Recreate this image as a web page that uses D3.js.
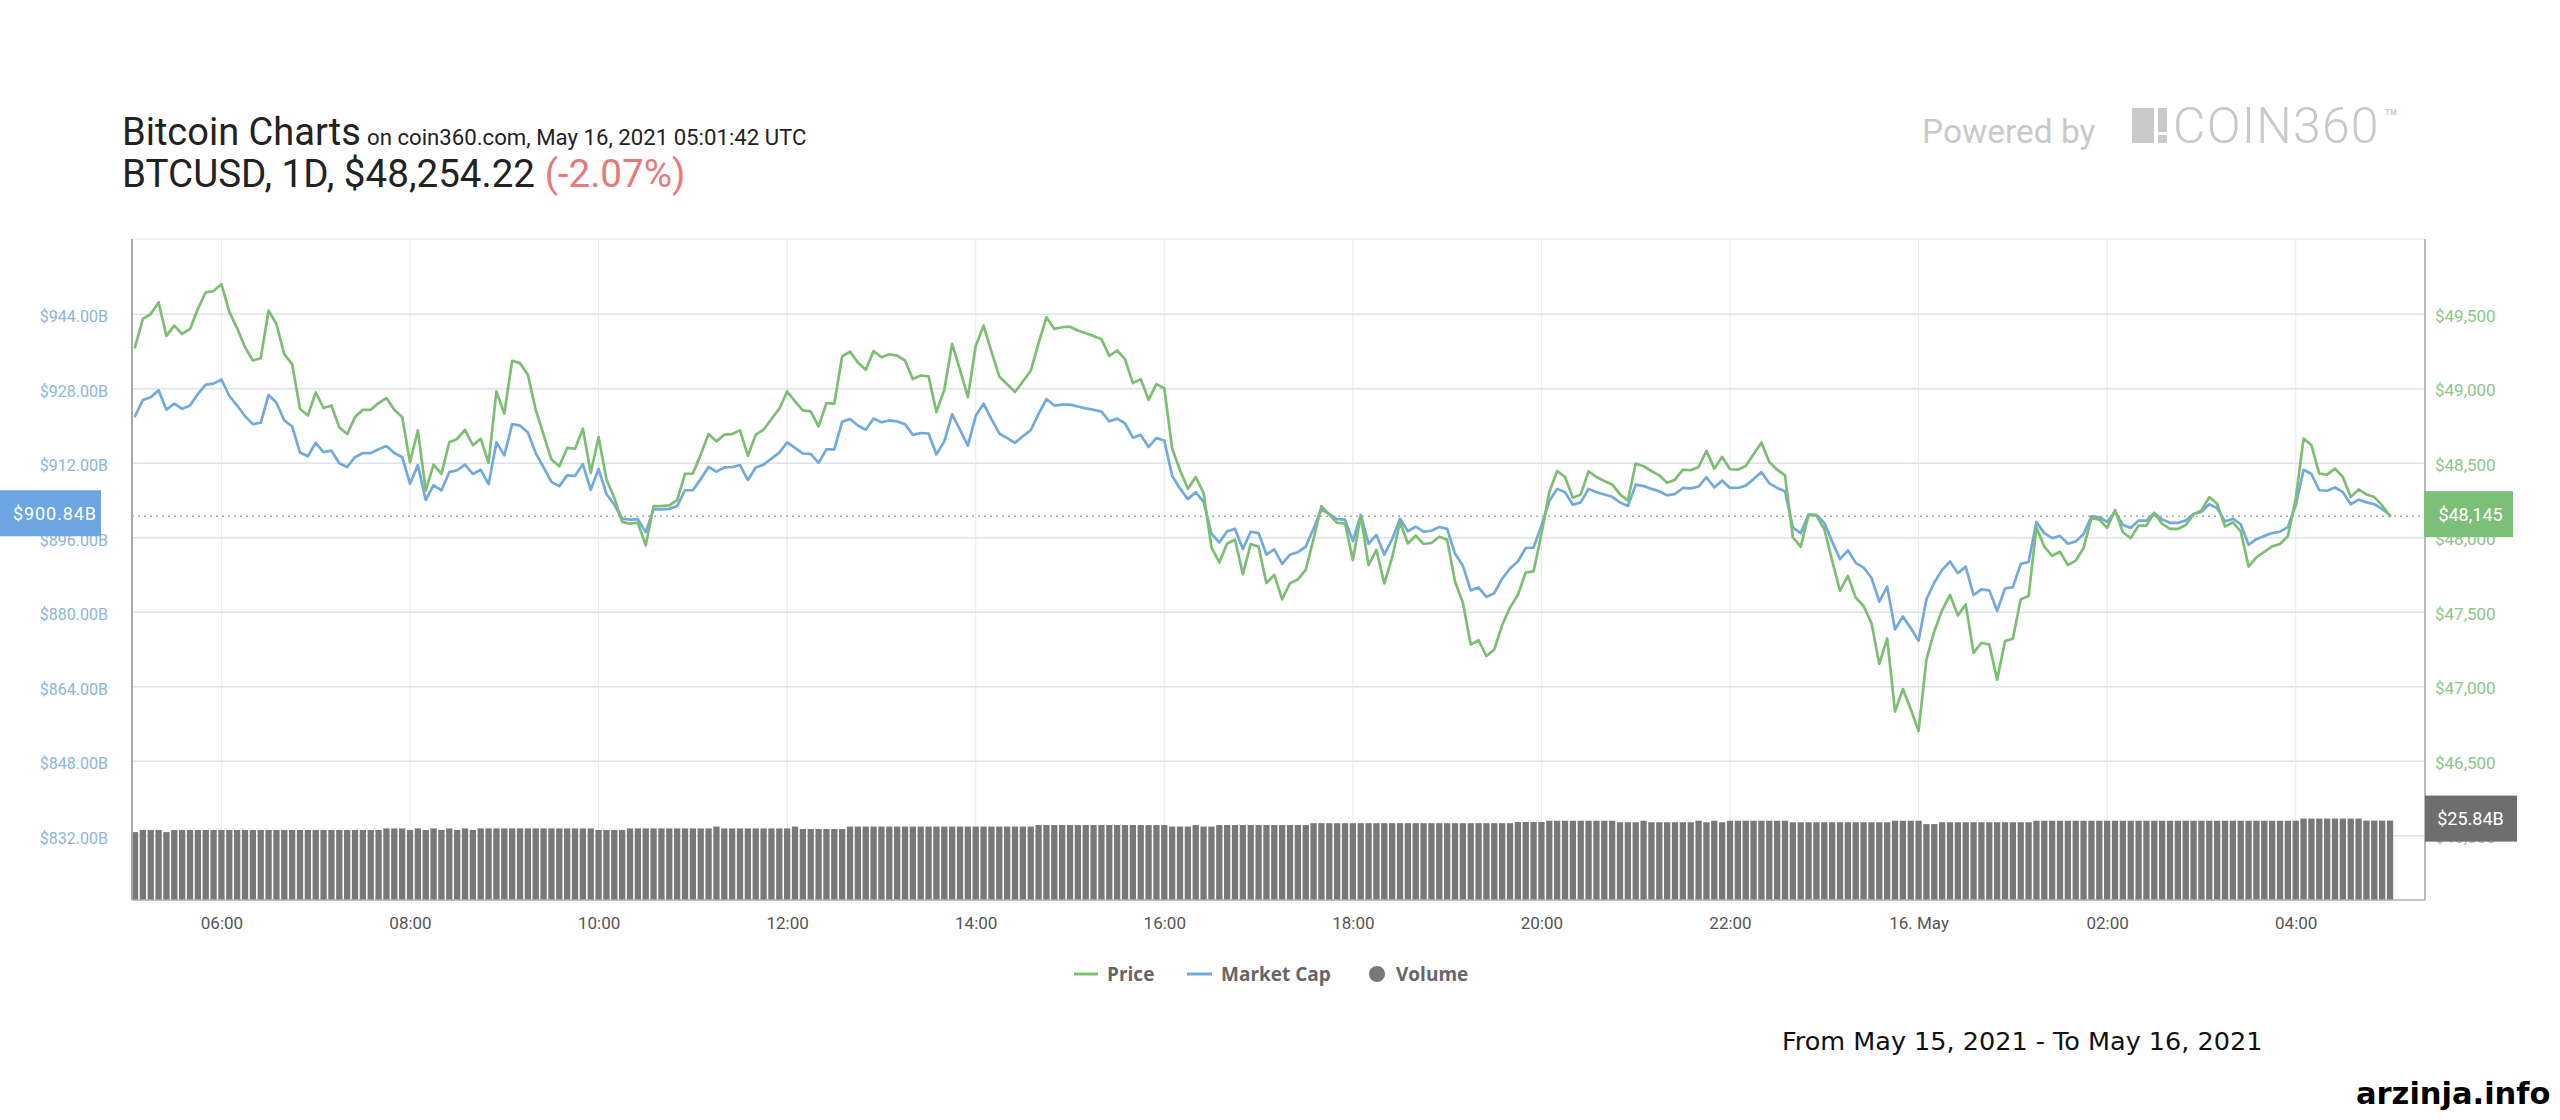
<!DOCTYPE html>
<html><head><meta charset="utf-8">
<script src="https://cdn.jsdelivr.net/npm/d3@7"></script>
<style>
html,body{margin:0;padding:0;background:#fff;}
svg{display:block;}
</style></head>
<body>
<svg id="chart" width="2560" height="1120"></svg>
<script>
// ---------------- DATA ----------------
const startTime = "2021-05-15T05:05:00Z";   // first sample
const stepMinutes = 5;                        // sampling interval
const xDomain = ["2021-05-15T05:03:05Z", "2021-05-16T05:22:16Z"];

// BTC price, USD
const price = [
49279,49469,49502,49580,49355,49424,49368,49402,49536,49647,
49656,49703,49518,49406,49279,49190,49205,49525,49435,49232,
49165,48866,48821,48975,48871,48888,48741,48696,48810,48859,
48859,48904,48938,48859,48810,48507,48721,48317,48491,48429,
48641,48663,48725,48621,48665,48502,48982,48833,49188,49172,
49094,48859,48692,48525,48480,48603,48598,48732,48435,48676,
48391,48268,48107,48094,48101,47949,48212,48212,48217,48252,
48429,48431,48558,48696,48647,48692,48696,48721,48551,48692,
48725,48797,48866,48982,48915,48855,48848,48748,48904,48900,
49217,49250,49176,49127,49254,49212,49232,49223,49190,49065,
49089,49083,48844,48993,49301,49127,48944,49288,49424,49250,
49083,49031,48978,49049,49121,49306,49480,49402,49413,49417,
49391,49373,49355,49333,49221,49257,49199,49038,49065,48926,
49031,49004,48599,48453,48329,48408,48300,47936,47834,47962,
47987,47756,47958,47940,47695,47751,47587,47695,47720,47785,
47992,48212,48156,48100,48097,47850,48149,47816,47918,47693,
47868,48104,47962,48014,47958,47965,48007,47987,47706,47564,
47283,47312,47205,47250,47414,47531,47616,47767,47774,48025,
48307,48448,48408,48268,48291,48446,48408,48381,48358,48291,
48250,48498,48480,48448,48419,48370,48390,48457,48453,48475,
48583,48464,48543,48460,48457,48482,48561,48639,48509,48457,
48419,48003,47940,48154,48149,48059,47846,47643,47744,47598,
47542,47429,47153,47324,46834,46984,46851,46703,47182,47373,
47515,47616,47479,47553,47227,47295,47283,47047,47306,47322,
47587,47609,48070,47940,47879,47906,47816,47846,47931,48133,
48122,48066,48187,48037,47998,48082,48082,48167,48093,48059,
48059,48086,48156,48183,48273,48228,48075,48104,48043,47807,
47868,47906,47942,47958,48010,48262,48666,48621,48430,48424,
48464,48408,48273,48325,48291,48273,48217,48145];

// Market cap, billions USD
const marketCap = [
922.1,925.6,926.2,927.7,923.5,924.8,923.7,924.4,926.9,928.9,
929.1,930.0,926.5,924.4,922.1,920.4,920.7,926.7,925.0,921.2,
919.9,914.3,913.5,916.4,914.4,914.7,912.0,911.2,913.3,914.2,
914.2,915.0,915.7,914.2,913.3,907.6,911.6,904.1,907.3,906.2,
910.1,910.5,911.7,909.7,910.6,907.5,916.5,913.7,920.4,920.1,
918.6,914.2,911.1,908.0,907.1,909.4,909.3,911.8,906.3,910.8,
905.4,903.1,900.1,899.9,900.0,897.2,902.1,902.1,902.2,902.8,
906.2,906.2,908.6,911.2,910.2,911.1,911.2,911.6,908.4,911.1,
911.7,913.0,914.3,916.5,915.3,914.1,914.0,912.1,915.0,915.0,
920.9,921.5,920.1,919.2,921.6,920.8,921.2,921.0,920.4,918.1,
918.5,918.4,913.9,916.7,922.5,919.2,915.8,922.2,924.8,921.5,
918.4,917.4,916.4,917.8,919.1,922.6,925.8,924.4,924.6,924.6,
924.2,923.8,923.5,923.1,921.0,921.6,920.6,917.5,918.1,915.5,
917.4,916.9,909.3,906.6,904.3,905.8,903.7,896.9,895.0,897.4,
897.9,893.6,897.3,897.0,892.4,893.5,890.4,892.4,892.9,894.1,
898.0,902.1,901.1,900.0,899.9,895.3,900.9,894.7,896.6,892.4,
895.7,900.1,897.4,898.4,897.3,897.5,898.3,897.9,892.6,890.0,
884.7,885.3,883.3,884.1,887.2,889.4,890.9,893.8,893.9,898.6,
903.9,906.5,905.8,903.1,903.6,906.5,905.8,905.3,904.8,903.6,
902.8,907.4,907.1,906.5,906.0,905.1,905.4,906.7,906.6,907.0,
909.0,906.8,908.3,906.7,906.7,907.2,908.6,910.1,907.7,906.7,
906.0,898.2,897.0,901.0,900.9,899.2,895.2,891.4,893.3,890.6,
889.6,887.4,882.3,885.5,876.3,879.1,876.6,873.9,882.8,886.4,
889.1,890.9,888.4,889.8,883.7,884.9,884.7,880.3,885.1,885.4,
890.4,890.8,899.4,897.0,895.9,896.4,894.7,895.2,896.8,900.6,
900.4,899.4,901.6,898.8,898.1,899.7,899.7,901.3,899.9,899.2,
899.2,899.7,901.1,901.6,903.2,902.4,899.5,900.1,898.9,894.5,
895.7,896.4,897.0,897.3,898.3,903.0,910.6,909.7,906.2,906.1,
906.8,905.8,903.2,904.2,903.6,903.2,902.2,900.84];

// 24h volume, billions USD
const volume = [
22.1,22.8,22.8,22.8,22.1,22.8,22.8,22.8,22.8,22.8,
22.8,22.8,22.8,22.8,22.8,22.8,22.8,22.8,22.8,22.8,
22.8,22.8,22.8,22.8,22.8,22.8,22.8,22.8,22.8,22.8,
22.8,22.8,23.3,23.3,23.3,22.8,23.3,22.8,23.3,22.8,
23.3,22.8,23.3,22.8,23.3,23.3,23.3,23.3,23.3,23.3,
23.3,23.3,23.3,23.3,23.3,23.3,23.3,23.3,23.3,22.8,
22.8,22.8,22.8,23.3,23.3,23.3,23.3,23.3,23.3,23.3,
23.3,23.3,23.3,23.3,23.9,23.3,23.3,23.3,23.3,23.3,
23.3,23.3,23.3,23.3,23.9,23.1,23.1,23.1,23.1,23.1,
23.1,23.9,23.9,23.9,23.9,23.9,23.9,23.9,23.9,23.9,
23.9,23.9,23.9,23.9,23.9,23.9,23.9,23.9,23.9,23.9,
23.9,23.9,23.9,23.9,23.9,24.4,24.4,24.4,24.4,24.4,
24.4,24.4,24.4,24.4,24.4,24.4,24.4,24.4,24.4,24.4,
24.4,24.4,23.9,23.9,23.9,24.4,23.9,23.9,24.4,24.4,
24.4,24.4,24.4,24.4,24.4,24.4,24.4,24.4,24.4,24.4,
25.0,25.0,25.0,25.0,25.0,25.0,25.0,25.0,25.0,25.0,
25.0,25.0,25.0,25.0,25.0,25.0,25.0,25.0,25.0,25.0,
25.0,25.0,25.0,25.0,25.0,25.0,25.4,25.4,25.4,25.4,
25.8,25.8,25.8,25.8,25.8,25.8,25.8,25.8,25.8,25.3,
25.3,25.3,25.8,25.3,25.3,25.3,25.3,25.3,25.3,25.8,
25.3,25.8,25.3,25.8,25.8,25.8,25.8,25.8,25.8,25.8,
25.8,25.3,25.3,25.3,25.3,25.3,25.3,25.3,25.3,25.3,
25.3,25.3,25.3,25.3,25.8,25.8,25.8,25.8,24.7,24.7,
25.3,25.3,25.3,25.3,25.3,25.3,25.3,25.3,25.3,25.3,
25.3,25.3,25.8,25.8,25.8,25.8,25.8,25.8,25.8,25.8,
25.8,25.8,25.8,25.8,25.8,25.8,25.8,25.8,25.8,25.8,
25.8,25.8,25.8,25.8,25.8,25.8,25.8,25.8,25.8,25.8,
25.8,25.8,25.8,25.8,25.8,25.8,26.5,26.5,26.5,26.5,
26.5,26.5,26.5,26.5,25.84,25.84,25.84,25.84];

const mcapTicks  = [832, 848, 864, 880, 896, 912, 928, 944];
const priceTicks = [46000, 46500, 47000, 47500, 48000, 48500, 49000, 49500];
const lastPrice = 48145, lastMcap = 900.84, lastVolume = 25.84;
const legendItems = ["Price", "Market Cap", "Volume"];
const titleMain = "Bitcoin Charts";
const titleSub = "on coin360.com, May 16, 2021 05:01:42 UTC";
const tickerText = "BTCUSD, 1D, $48,254.22";
const changeText = "(-2.07%)";
const rangeText = "From May 15, 2021 - To May 16, 2021";
const siteText = "arzinja.info";

// ---------------- LAYOUT / STYLE ----------------
const C = {
  price: "#7cbe72", mcap: "#72a9df", vol: "#787878",
  priceBox: "#7cbf78", mcapBox: "#6ca7e4", volBox: "#6e6e6e",
  gridH: "#dce3ea", gridV: "#e8ecf0", axis: "#a8a8a8",
  leftLbl: "#8cb5d9", rightLbl: "#8cc68a", xLbl: "#555"
};
const plot = {left: 132, right: 2425, top: 239, bottom: 900};

const svg = d3.select("#chart");

const t0 = new Date(startTime);
const times = price.map((_, i) => new Date(t0.getTime() + i * stepMinutes * 60000));

const x  = d3.scaleUtc().domain(xDomain.map(d => new Date(d))).range([plot.left, plot.right]);
const yM = d3.scaleLinear().domain([832, 944]).range([835.7, 314.3]);
const yP = d3.scaleLinear().domain([46000, 49500]).range([835.7, 314.3]);
const yV = d3.scaleLinear().domain([0, 25.84]).range([plot.bottom, 820.6]);

svg.append("defs").append("clipPath").attr("id", "clip")
  .append("rect").attr("x", plot.left).attr("y", plot.top)
  .attr("width", plot.right - plot.left).attr("height", plot.bottom - plot.top);

// top border
svg.append("line").attr("x1", plot.left).attr("x2", plot.right)
  .attr("y1", plot.top).attr("y2", plot.top).attr("stroke", "#e6e6e6").attr("stroke-width", 1);

// vertical grid
const xTicks = x.ticks(d3.utcHour.every(2));
svg.append("g").selectAll("line").data(xTicks).join("line")
  .attr("x1", d => x(d)).attr("x2", d => x(d))
  .attr("y1", plot.top).attr("y2", plot.bottom)
  .attr("stroke", C.gridV).attr("stroke-width", 1.2);

// horizontal grid
svg.append("g").selectAll("line").data(mcapTicks).join("line")
  .attr("x1", plot.left).attr("x2", plot.right)
  .attr("y1", d => yM(d)).attr("y2", d => yM(d))
  .attr("stroke", C.gridH).attr("stroke-width", 1.4);

const inner = svg.append("g").attr("clip-path", "url(#clip)");

// volume bars
const step = x(new Date(t0.getTime() + stepMinutes * 60000)) - x(t0);
const bw = step * 0.8;
inner.append("g").selectAll("rect").data(volume).join("rect")
  .attr("x", (d, i) => x(times[i]) - bw / 2)
  .attr("y", d => yV(d))
  .attr("width", bw)
  .attr("height", d => plot.bottom - yV(d))
  .attr("fill", C.vol);

// dotted current-value line
inner.append("line").attr("x1", plot.left).attr("x2", plot.right)
  .attr("y1", yP(lastPrice)).attr("y2", yP(lastPrice))
  .attr("stroke", "#aaa").attr("stroke-width", 1.5).attr("stroke-dasharray", "2,4");

// lines
const lineM = d3.line().x((d, i) => x(times[i])).y(d => yM(d));
const lineP = d3.line().x((d, i) => x(times[i])).y(d => yP(d));
inner.append("path").datum(marketCap).attr("d", lineM)
  .attr("fill", "none").attr("stroke", C.mcap).attr("stroke-width", 2.7)
  .attr("stroke-linejoin", "round").attr("stroke-linecap", "round");
inner.append("path").datum(price).attr("d", lineP)
  .attr("fill", "none").attr("stroke", C.price).attr("stroke-width", 2.7)
  .attr("stroke-linejoin", "round").attr("stroke-linecap", "round");

// axis lines
svg.append("line").attr("x1", plot.left).attr("x2", plot.left).attr("y1", plot.top).attr("y2", plot.bottom)
  .attr("stroke", C.axis).attr("stroke-width", 2);
svg.append("line").attr("x1", plot.right).attr("x2", plot.right).attr("y1", plot.top).attr("y2", plot.bottom)
  .attr("stroke", C.axis).attr("stroke-width", 1.6);
svg.append("line").attr("x1", plot.left).attr("x2", plot.right).attr("y1", plot.bottom).attr("y2", plot.bottom)
  .attr("stroke", "#b0b0b0").attr("stroke-width", 1.6);

// x axis
const gx = svg.append("g").attr("transform", `translate(0,${plot.bottom})`)
  .call(d3.axisBottom(x).tickValues(xTicks).tickSize(0).tickPadding(17)
    .tickFormat(d => d.getUTCHours() === 0 ? d3.utcFormat("%-d. %b")(d) : d3.utcFormat("%H:%M")(d)));
gx.select(".domain").remove();
gx.attr("font-family", "Roboto").attr("font-size", 17).attr("color", C.xLbl);

// left axis
const gl = svg.append("g").attr("transform", `translate(${plot.left},0)`)
  .call(d3.axisLeft(yM).tickValues(mcapTicks).tickSize(0).tickPadding(24)
    .tickFormat(d => "$" + d.toFixed(2) + "B"));
gl.select(".domain").remove();
gl.attr("font-family", "Roboto").attr("font-size", 16).attr("color", C.leftLbl);
gl.selectAll("text").attr("dy", "0.46em");

// right axis
const gr = svg.append("g").attr("transform", `translate(${plot.right},0)`)
  .call(d3.axisRight(yP).tickValues(priceTicks).tickSize(0).tickPadding(10)
    .tickFormat(d => "$" + d3.format(",")(d)));
gr.select(".domain").remove();
gr.attr("font-family", "Roboto").attr("font-size", 17).attr("color", C.rightLbl);
gr.selectAll("text").attr("dy", "0.42em");

// value boxes
function valueBox(x0, w, yc, fill, label, cx, ls) {
  svg.append("rect").attr("x", x0).attr("y", yc - 25).attr("width", w).attr("height", 46).attr("fill", fill);
  svg.append("text").attr("x", cx).attr("y", yc + 4.5).attr("text-anchor", "middle")
    .attr("font-family", "Roboto").attr("font-size", 18).attr("fill", "#fff")
    .attr("letter-spacing", ls).text(label);
}
valueBox(0, 101, yM(lastMcap), C.mcapBox, "$" + lastMcap.toFixed(2) + "B", 55, 0.9);
valueBox(plot.right - 1, 89, yP(lastPrice), C.priceBox, "$" + d3.format(",")(lastPrice), 2470.5, 0);
valueBox(plot.right, 92, yV(lastVolume), C.volBox, "$" + lastVolume.toFixed(2) + "B", 2470.5, 0);

// ---------------- HEADER ----------------
svg.append("text").attr("x", 122).attr("y", 145).attr("font-family", "Roboto").attr("font-size", 38)
  .attr("fill", "#222").text(titleMain);
svg.append("text").attr("x", 367).attr("y", 145).attr("font-family", "Roboto").attr("font-size", 22.2)
  .attr("fill", "#222").text(titleSub);
const t2 = svg.append("text").attr("x", 122).attr("y", 187).attr("font-family", "Roboto").attr("font-size", 38.6)
  .attr("fill", "#222");
t2.append("tspan").text(tickerText + " ");
t2.append("tspan").attr("fill", "#e57a78").text(changeText);

// Powered by COIN360
svg.append("text").attr("x", 1922).attr("y", 143).attr("font-family", "Roboto").attr("font-size", 33.5)
  .attr("fill", "#c9c9c9").text("Powered by");
svg.append("rect").attr("x", 2132).attr("y", 108).attr("width", 22).attr("height", 35).attr("fill", "#c9c9c9");
svg.append("rect").attr("x", 2158).attr("y", 108).attr("width", 9).attr("height", 24).attr("fill", "#c9c9c9");
svg.append("rect").attr("x", 2158).attr("y", 135).attr("width", 9).attr("height", 8).attr("fill", "#c9c9c9");
svg.append("text").attr("x", 2173).attr("y", 143).attr("font-family", "Roboto").attr("font-weight", 300)
  .attr("font-size", 50).attr("letter-spacing", 1.2).attr("fill", "#c9c9c9").text("COIN360");
svg.append("text").attr("x", 2384).attr("y", 126).attr("font-family", "Roboto").attr("font-size", 24)
  .attr("fill", "#c9c9c9").text("™");

// ---------------- LEGEND ----------------
const legY = 974;
const lg = svg.append("g").attr("font-family", "'Open Sans'").attr("font-weight", 700)
  .attr("font-size", 19).attr("fill", "#666");
lg.append("line").attr("x1", 1074).attr("x2", 1098).attr("y1", legY).attr("y2", legY)
  .attr("stroke", C.price).attr("stroke-width", 3);
lg.append("text").attr("x", 1107).attr("y", legY + 7).text(legendItems[0]);
lg.append("line").attr("x1", 1187).attr("x2", 1212).attr("y1", legY).attr("y2", legY)
  .attr("stroke", C.mcap).attr("stroke-width", 3);
lg.append("text").attr("x", 1221).attr("y", legY + 7).text(legendItems[1]);
lg.append("circle").attr("cx", 1377).attr("cy", legY).attr("r", 8).attr("fill", C.vol);
lg.append("text").attr("x", 1396).attr("y", legY + 7).text(legendItems[2]);

// ---------------- FOOTER ----------------
svg.append("text").attr("x", 1782).attr("y", 1050).attr("font-family", "'DejaVu Sans'")
  .attr("font-size", 25.5).attr("fill", "#111").text(rangeText);
svg.append("text").attr("x", 2356).attr("y", 1104).attr("font-family", "'DejaVu Sans'").attr("font-weight", 700)
  .attr("font-size", 30.5).attr("fill", "#000").text(siteText);
</script>
</body></html>
